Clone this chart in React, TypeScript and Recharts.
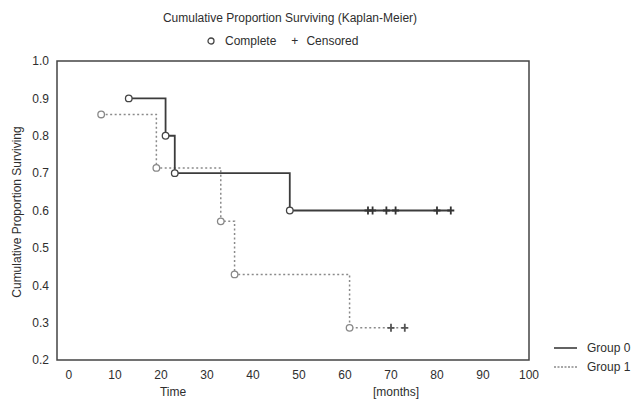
import { ComposedChart, Line, Scatter, XAxis, YAxis, ReferenceArea } from 'recharts'

const xTicks = [0, 10, 20, 30, 40, 50, 60, 70, 80, 90, 100]
const yTicks = [0.2, 0.3, 0.4, 0.5, 0.6, 0.7, 0.8, 0.9, 1.0]

// Group 0: complete (event) times and censored times
const g0EventTime = [13, 21, 23, 48]
const g0EventSurv = [0.9, 0.8, 0.7, 0.6]
const g0CensorTime = [65, 66, 69, 71, 80, 83]
const g0CensorSurv = [0.6, 0.6, 0.6, 0.6, 0.6, 0.6]

// Group 1
const g1EventTime = [7, 19, 33, 36, 61]
const g1EventSurv = [0.857, 0.714, 0.571, 0.429, 0.286]
const g1CensorTime = [70, 73]
const g1CensorSurv = [0.286, 0.286]

const zip = (t: number[], s: number[]) => t.map((v, i) => ({ t: v, s: s[i] }))

const g0Events = zip(g0EventTime, g0EventSurv)
const g0Censored = zip(g0CensorTime, g0CensorSurv)
const g1Events = zip(g1EventTime, g1EventSurv)
const g1Censored = zip(g1CensorTime, g1CensorSurv)

// curve runs from first event to last censored time
const g0Curve = [...g0Events, g0Censored[g0Censored.length - 1]]
const g1Curve = [...g1Events, g1Censored[g1Censored.length - 1]]

const font = '"Liberation Sans", Arial, sans-serif'
const ink = '#2e2e2e'

const circle = (color: string) => (props: any) => (
    <circle cx={props.cx} cy={props.cy} r={3.3} fill="#fff" stroke={color} strokeWidth={1.3} />
)

const plus = (color: string) => (props: any) => (
    <path
        d={`M${props.cx - 3.5},${props.cy}H${props.cx + 3.5}M${props.cx},${props.cy - 4}V${props.cy + 4}`}
        stroke={color}
        strokeWidth={1.8}
        fill="none"
    />
)

const text = (style: React.CSSProperties, children: React.ReactNode) => (
    <div style={{ position: 'absolute', fontFamily: font, fontSize: 12, color: ink, whiteSpace: 'nowrap', ...style }}>
        {children}
    </div>
)

export default function App() {
    return (
        <div style={{ position: 'absolute', left: 0, top: 0, width: 633, height: 401, background: '#fff' }}>
            <ComposedChart width={633} height={401} margin={{ top: 61, right: 104, bottom: 11, left: 0 }}>
                <XAxis
                    dataKey="t"
                    type="number"
                    domain={[-2.6, 100]}
                    ticks={xTicks}
                    allowDataOverflow
                    height={30}
                    tickLine={false}
                    axisLine={false}
                    tickMargin={4}
                    tick={{ fill: ink, fontSize: 12, fontFamily: font }}
                />
                <YAxis
                    type="number"
                    domain={[0.2, 1.0]}
                    ticks={yTicks}
                    allowDataOverflow
                    width={57}
                    tickLine={false}
                    axisLine={false}
                    tickMargin={2}
                    tickFormatter={(v: number) => v.toFixed(1)}
                    tick={{ fill: ink, fontSize: 12, fontFamily: font }}
                />
                <ReferenceArea x1={-2.6} x2={100} y1={0.2} y2={1.0} fill="none" stroke="#444" strokeWidth={1.5} />
                <Line
                    data={g1Curve}
                    dataKey="s"
                    type="stepAfter"
                    stroke="#8a8a8a"
                    strokeWidth={1.5}
                    strokeDasharray="2 2.5"
                    dot={false}
                    isAnimationActive={false}
                />
                <Line
                    data={g0Curve}
                    dataKey="s"
                    type="stepAfter"
                    stroke="#3c3c3c"
                    strokeWidth={1.8}
                    dot={false}
                    isAnimationActive={false}
                />
                <Scatter data={g1Events} dataKey="s" shape={circle('#888')} isAnimationActive={false} />
                <Scatter data={g1Censored} dataKey="s" shape={plus('#555')} isAnimationActive={false} />
                <Scatter data={g0Events} dataKey="s" shape={circle('#444')} isAnimationActive={false} />
                <Scatter data={g0Censored} dataKey="s" shape={plus('#333')} isAnimationActive={false} />
            </ComposedChart>

            {text({ left: 0, width: 580, top: 11, textAlign: 'center' }, 'Cumulative Proportion Surviving (Kaplan-Meier)')}
            <div style={{ position: 'absolute', left: 206, top: 34, fontFamily: font, fontSize: 12, color: ink, whiteSpace: 'nowrap' }}>
                <svg width={10} height={10} style={{ verticalAlign: -1 }}>
                    <circle cx={5} cy={5} r={3} fill="#fff" stroke="#444" strokeWidth={1.3} />
                </svg>
                <span style={{ marginLeft: 9 }}>Complete</span>
                <span style={{ marginLeft: 15 }}>+</span>
                <span style={{ marginLeft: 8 }}>Censored</span>
            </div>
            {text({ left: 17, top: 212, transform: 'translate(-50%, -50%) rotate(-90deg)' }, 'Cumulative Proportion Surviving')}
            {text({ left: 173, top: 392, transform: 'translate(-50%, -50%)' }, 'Time')}
            {text({ left: 396, top: 392, transform: 'translate(-50%, -50%)' }, '[months]')}

            <svg style={{ position: 'absolute', left: 553, top: 340 }} width={26} height={34}>
                <line x1={1} y1={8} x2={24} y2={8} stroke="#3c3c3c" strokeWidth={1.6} />
                <line x1={1} y1={27} x2={24} y2={27} stroke="#8a8a8a" strokeWidth={1.3} strokeDasharray="2 1.5" />
            </svg>
            {text({ left: 587, top: 341 }, 'Group 0')}
            {text({ left: 587, top: 360 }, 'Group 1')}
        </div>
    )
}
